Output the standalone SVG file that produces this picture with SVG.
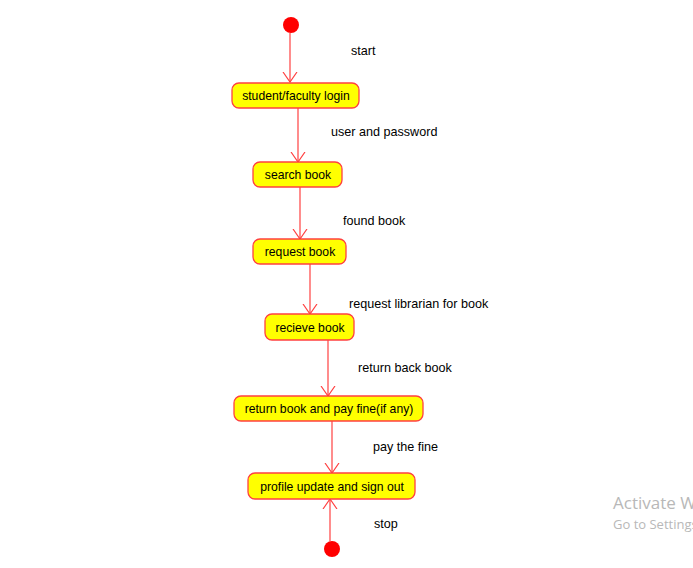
<svg xmlns="http://www.w3.org/2000/svg" width="693" height="568" viewBox="0 0 693 568">
<style>
.n{fill:#ffff00;stroke:#ff4040;stroke-width:1.3}
.t{font-family:"Liberation Sans",Arial,sans-serif;font-size:12.2px;fill:#000}
.c{stroke:#ff4040;stroke-width:1.2;fill:none}
.l{font-family:"Liberation Sans",Arial,sans-serif;font-size:12.6px;fill:#000}
.w{font-family:"Open Sans","DejaVu Sans",sans-serif;fill:#b8b8b8}
</style>
<defs>
<marker id="a" viewBox="0 0 11 16" refX="10" refY="8" markerWidth="11" markerHeight="16" markerUnits="userSpaceOnUse" orient="auto">
<path d="M0,1 L10,8 L0,15" fill="none" stroke="#ff4040" stroke-width="1.2"/>
</marker>
</defs>
<rect width="693" height="568" fill="#fff"/>
<g id="connectors">
<path class="c" d="M290,33 V82" marker-end="url(#a)"/>
<path class="c" d="M298,108 V162" marker-end="url(#a)"/>
<path class="c" d="M300,187 V239" marker-end="url(#a)"/>
<path class="c" d="M310,264 V314" marker-end="url(#a)"/>
<path class="c" d="M328,340 V396" marker-end="url(#a)"/>
<path class="c" d="M332,421 V473" marker-end="url(#a)"/>
<path class="c" d="M330,541 V499" marker-end="url(#a)"/>
<text class="l" x="351" y="55">start</text>
<text class="l" x="331" y="136">user and password</text>
<text class="l" x="343" y="225">found book</text>
<text class="l" x="349" y="308">request librarian for book</text>
<text class="l" x="358" y="372">return back book</text>
<text class="l" x="373" y="451">pay the fine</text>
<text class="l" x="374" y="528">stop</text>
</g>
<g id="start"><circle cx="291" cy="25" r="8" fill="#ff0000"/></g>
<g id="n1"><rect class="n" x="232" y="83" width="127" height="25" rx="7"/><text class="t" x="296" y="100" text-anchor="middle">student/faculty login</text></g>
<g id="n2"><rect class="n" x="253" y="162" width="89" height="25" rx="7"/><text class="t" x="298" y="179" text-anchor="middle">search book</text></g>
<g id="n3"><rect class="n" x="253" y="239" width="93" height="25" rx="7"/><text class="t" x="300" y="256" text-anchor="middle">request book</text></g>
<g id="n4"><rect class="n" x="265" y="314" width="89" height="26" rx="7"/><text class="t" x="310" y="332" text-anchor="middle">recieve book</text></g>
<g id="n5"><rect class="n" x="234" y="396" width="189" height="25" rx="7"/><text class="t" x="329" y="413" text-anchor="middle">return book and pay fine(if any)</text></g>
<g id="n6"><rect class="n" x="248" y="473" width="167" height="26" rx="7"/><text class="t" x="332" y="491" text-anchor="middle">profile update and sign out</text></g>
<g id="end"><circle cx="332" cy="549" r="8" fill="#ff0000"/></g>
<text class="w" x="613" y="509" font-size="17">Activate Windows</text>
<text class="w" x="613" y="529" font-size="13">Go to Settings to activate Windows.</text>
</svg>
